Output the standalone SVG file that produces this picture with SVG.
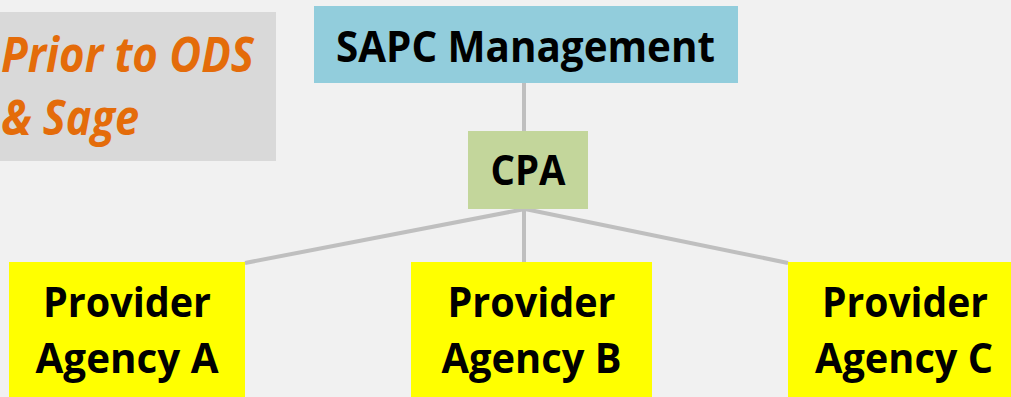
<svg xmlns="http://www.w3.org/2000/svg" width="1011" height="397" viewBox="0 0 1011 397">
<style>
.t{font-family:"Open Sans","Liberation Sans",sans-serif;font-weight:bold;fill:#000;text-anchor:middle}
.o{font-family:"Open Sans","Liberation Sans",sans-serif;font-weight:bold;font-style:italic;font-size:48px;fill:#e46c0a}
.c{stroke:#bfbfbf;stroke-width:4;fill:none}
.prov{fill:#ffff00}
</style>
<rect x="0" y="0" width="1011" height="397" fill="#f1f1f1"/>
<g id="note">
<rect x="-5" y="12" width="281" height="149" fill="#d9d9d9"/>
<text class="o" x="1" y="72" textLength="253" lengthAdjust="spacingAndGlyphs">Prior to ODS</text>
<text class="o" x="1" y="135" textLength="138" lengthAdjust="spacingAndGlyphs">&amp; Sage</text>
</g>
<g id="connectors">
<line class="c" x1="524" y1="83" x2="524" y2="131"/>
<line class="c" x1="525" y1="209" x2="245" y2="263"/>
<line class="c" x1="524" y1="209" x2="524" y2="263"/>
<line class="c" x1="525" y1="209" x2="788" y2="263"/>
</g>
<g id="sapc">
<rect x="314" y="6" width="424" height="77" fill="#92cddc"/>
<text class="t" x="525.5" y="62" font-size="43" textLength="379" lengthAdjust="spacingAndGlyphs">SAPC Management</text>
</g>
<g id="cpa">
<rect x="468" y="131" width="120" height="78" fill="#c3d69b"/>
<text class="t" x="528" y="185" font-size="41" textLength="75" lengthAdjust="spacingAndGlyphs">CPA</text>
</g>
<g id="providerA">
<rect class="prov" x="9" y="262" width="236" height="140"/>
<text class="t" x="127" y="317" font-size="41" textLength="168" lengthAdjust="spacingAndGlyphs">Provider</text>
<text class="t" x="127" y="373" font-size="41" textLength="183" lengthAdjust="spacingAndGlyphs">Agency A</text>
</g>
<g id="providerB">
<rect class="prov" x="411" y="262" width="241" height="140"/>
<text class="t" x="531.5" y="317" font-size="41" textLength="168" lengthAdjust="spacingAndGlyphs">Provider</text>
<text class="t" x="531.5" y="373" font-size="41" textLength="180" lengthAdjust="spacingAndGlyphs">Agency B</text>
</g>
<g id="providerC">
<rect class="prov" x="788" y="262" width="240" height="140"/>
<text class="t" x="905" y="317" font-size="41" textLength="166" lengthAdjust="spacingAndGlyphs">Provider</text>
<text class="t" x="904" y="373" font-size="41" textLength="178" lengthAdjust="spacingAndGlyphs">Agency C</text>
</g>
</svg>
